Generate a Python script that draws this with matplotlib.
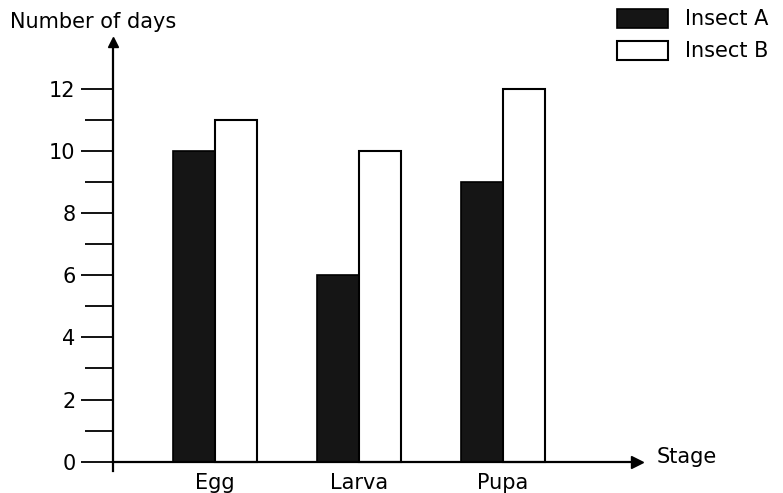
import matplotlib.pyplot as plt
import numpy as np

plt.rcParams['font.family'] = ['DejaVu Sans']

stages = ['Egg', 'Larva', 'Pupa']
insect_a = [10, 6, 9]
insect_b = [11, 10, 12]
series_names = ['Insect A', 'Insect B']

x = np.arange(len(stages))
w = 0.29

fig = plt.figure(figsize=(7.83, 4.93), dpi=100)
ax = fig.add_axes([113/783, 1 - 471/493, (637 - 113)/783, (471 - 42)/493])

ax.bar(x - w/2, insect_a, w, color='#151515', edgecolor='black', linewidth=1.2, label=series_names[0])
ax.bar(x + w/2, insect_b, w, color='white', edgecolor='black', linewidth=1.5, label=series_names[1])

ax.set_xlim(-0.71, 2.93)
ax.set_ylim(-0.3, 13.5)

# axes as arrows
ax.spines['top'].set_visible(False)
ax.spines['right'].set_visible(False)
ax.spines['bottom'].set_position(('data', 0))
ax.spines['left'].set_linewidth(1.6)
ax.spines['bottom'].set_linewidth(1.6)
ax.plot(1, 0, '>k', markersize=8, transform=ax.get_yaxis_transform(), clip_on=False)
ax.plot(0, 1, '^k', markersize=7, transform=ax.transAxes, clip_on=False)

ax.set_yticks(np.arange(0, 13, 2))
ax.set_yticks(np.arange(1, 13, 2), minor=True)
ax.tick_params(axis='y', which='major', length=23, width=1.3, pad=4, labelsize=15)
ax.tick_params(axis='y', which='minor', length=20, width=1.3)

ax.set_xticks(x)
ax.set_xticklabels(stages)
ax.tick_params(axis='x', length=0, pad=8, labelsize=15)

fig.text(10/783, 1 - 22/493, 'Number of days', fontsize=15, va='center')
fig.text(657/783, 1 - 457/493, 'Stage', fontsize=15, va='center')

ax.legend(loc='upper left', bbox_to_anchor=(617/783, 1 - 9/493), bbox_transform=fig.transFigure,
          frameon=False, fontsize=15, handlelength=2.45, handleheight=1.0,
          labelspacing=0.55, handletextpad=0.8, borderpad=0, borderaxespad=0)

plt.savefig('out.png', dpi=100)
